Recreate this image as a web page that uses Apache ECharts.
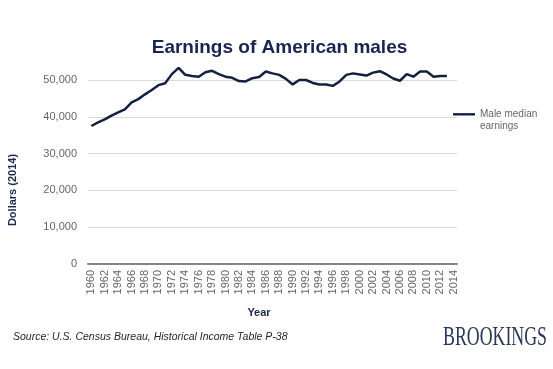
<!DOCTYPE html>
<html>
<head>
<meta charset="utf-8">
<script src="https://cdn.jsdelivr.net/npm/echarts@6/dist/echarts.min.js"></script>
<style>
html,body{margin:0;padding:0;background:#fff;}
#chart{width:553px;height:369px;}
</style>
</head>
<body>
<div id="chart"></div>
<script>
var years = [];
for (var y = 1960; y <= 2014; y++) { years.push(String(y)); }

var seriesName = 'Male median\nearnings';

var maleMedianEarnings = [
  37500, 38500, 39300, 40300, 41200, 42000, 43900, 44800, 46100, 47300,
  48600, 49100, 51600, 53300, 51400, 51100, 50900, 52100, 52500, 51600,
  50900, 50600, 49700, 49600, 50500, 50800, 52300, 51800, 51400, 50300,
  48800, 50000, 50000, 49200, 48800, 48800, 48400, 49600, 51400, 51800,
  51500, 51200, 52000, 52400, 51500, 50400, 49800, 51600, 50900, 52300,
  52300, 50900, 51100, 51100, null
];

var yTicks = [0, 10000, 20000, 30000, 40000, 50000];

var chart = echarts.init(document.getElementById('chart'), null, {renderer: 'canvas'});

var navy = '#13203f';
var gray = '#666666';

chart.setOption({
  backgroundColor: '#ffffff',
  animation: false,
  textStyle: {fontFamily: 'Liberation Sans, Arial, sans-serif'},
  title: {
    text: 'Earnings of American males',
    left: 274.5,
    textAlign: 'center',
    top: 33,
    textStyle: {fontSize: 19, fontWeight: 'bold', color: '#1b2350', fontFamily: 'Liberation Sans, Arial, sans-serif'}
  },
  legend: {
    left: 453,
    top: 108,
    padding: 0,
    orient: 'vertical',
    itemWidth: 22,
    itemHeight: 14,
    data: [{name: seriesName, icon: 'path://M0,-1 L24,-1 L24,1.6 L0,1.6 Z M0,14'}],
    itemStyle: {color: navy},
    textStyle: {fontSize: 10, lineHeight: 12, color: gray}
  },
  grid: {left: 88, right: 96, top: 80, bottom: 105, containLabel: false},
  xAxis: {
    type: 'category',
    data: years,
    boundaryGap: true,
    axisLine: {lineStyle: {color: '#858585', width: 2}},
    axisTick: {show: false},
    axisLabel: {rotate: 90, interval: 1, fontSize: 11, color: gray, margin: 6}
  },
  yAxis: {
    type: 'value',
    min: yTicks[0],
    max: yTicks[yTicks.length - 1],
    interval: 10000,
    axisLine: {show: false},
    axisTick: {show: false},
    splitLine: {lineStyle: {color: '#d9d9d9', width: 1}},
    axisLabel: {
      fontSize: 11, color: gray, margin: 11,
      formatter: function (v) { return v === 0 ? '0' : v.toLocaleString('en-US'); }
    }
  },
  series: [{
    name: seriesName,
    type: 'line',
    data: maleMedianEarnings,
    symbol: 'none',
    clip: false,
    lineStyle: {color: navy, width: 2.5},
    itemStyle: {color: navy}
  }],
  graphic: [
    {
      type: 'text', x: 13, y: 190, rotation: Math.PI / 2,
      style: {text: 'Dollars (2014)', font: 'bold 11px Liberation Sans, Arial, sans-serif', fill: '#1f2a4a', textAlign: 'center', textVerticalAlign: 'middle'}
    },
    {
      type: 'text', x: 259, y: 313,
      style: {text: 'Year', font: 'bold 11px Liberation Sans, Arial, sans-serif', fill: '#1f2a4a', textAlign: 'center', textVerticalAlign: 'middle'}
    },
    {
      type: 'text', x: 13, y: 337,
      style: {text: 'Source: U.S. Census Bureau, Historical Income Table P-38', font: 'italic 10.5px Liberation Sans, Arial, sans-serif', fill: '#262626', textAlign: 'left', textVerticalAlign: 'middle'}
    },
    {
      type: 'text', x: 443, y: 338, scaleX: 0.66,
      style: {text: 'BROOKINGS', font: '27px Liberation Serif, Times New Roman, serif', fill: '#2b3659', textAlign: 'left', textVerticalAlign: 'middle'}
    }
  ]
});
</script>
</body>
</html>
